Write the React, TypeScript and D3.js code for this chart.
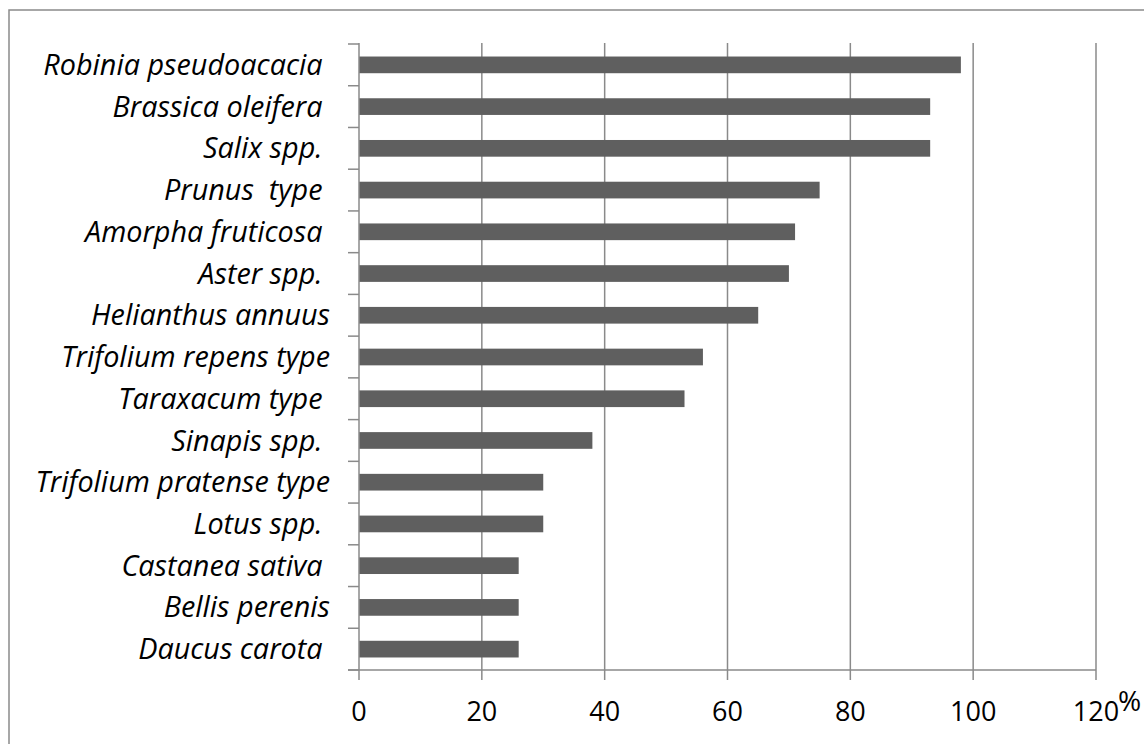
import React from "react";
import * as d3 from "d3";

const categories = [
  "Robinia pseudoacacia ",
  "Brassica oleifera ",
  "Salix spp. ",
  "Prunus  type ",
  "Amorpha fruticosa ",
  "Aster spp. ",
  "Helianthus annuus",
  "Trifolium repens type",
  "Taraxacum type ",
  "Sinapis spp. ",
  "Trifolium pratense type",
  "Lotus spp. ",
  "Castanea sativa ",
  "Bellis perenis",
  "Daucus carota ",
];
const values = [98, 93, 93, 75, 71, 70, 65, 56, 53, 38, 30, 30, 26, 26, 26];
const xTicks = [0, 20, 40, 60, 80, 100, 120];
const unitLabel = "%";

const W = 1144;
const H = 744;
const left = 359;
const right = 1096;
const top = 44;
const bottom = 670;

export default function App() {
  const x = d3.scaleLinear().domain([0, 120]).range([left, right]);
  const band = d3.scaleBand<string>().domain(categories).range([top, bottom]);
  const grid = "#8a8a8a";
  const boundaries = d3.range(categories.length + 1).map((i) => top + (i * (bottom - top)) / categories.length);

  return (
    <svg
      width={W}
      height={H}
      style={{ position: "absolute", left: 0, top: 0, background: "#fff" }}
    >
      <rect x={0} y={0} width={W} height={H} fill="#fff" />
      <rect x={9} y={10} width={1145} height={750} fill="none" stroke={grid} strokeWidth={1.5} />
      {xTicks.slice(1).map((t) => (
        <line key={"g" + t} x1={x(t)} x2={x(t)} y1={top - 1} y2={bottom} stroke={grid} strokeWidth={1.5} />
      ))}
      {categories.map((c, i) => {
        const bc = (band(c) as number) + band.bandwidth() / 2;
        const h = band.bandwidth() / 2.5;
        return (
          <rect key={c} x={x(0)} y={bc - h / 2} width={x(values[i]) - x(0)} height={h} fill="#5f5f5f" />
        );
      })}
      <line x1={left} x2={left} y1={top - 1} y2={bottom} stroke={grid} strokeWidth={1.5} />
      {boundaries.map((b, i) => (
        <line key={"yt" + i} x1={left - 11} x2={left} y1={b} y2={b} stroke={grid} strokeWidth={1.5} />
      ))}
      <line x1={left - 11} x2={right} y1={bottom} y2={bottom} stroke={grid} strokeWidth={1.5} />
      {xTicks.map((t) => (
        <line key={"xt" + t} x1={x(t)} x2={x(t)} y1={bottom} y2={bottom + 10} stroke={grid} strokeWidth={1.5} />
      ))}
      {xTicks.map((t) => (
        <text
          key={"xl" + t}
          x={x(t)}
          y={721}
          textAnchor="middle"
          fontFamily="'Open Sans', sans-serif"
          fontSize={27}
          fill="#000"
        >
          {t}
        </text>
      ))}
      <text x={1118} y={711} fontFamily="'Open Sans', sans-serif" fontSize={28} fill="#000">
        {unitLabel}
      </text>
      {categories.map((c) => (
        <text
          key={"cl" + c}
          x={330}
          y={(band(c) as number) + band.bandwidth() / 2}
          dy="0.35em"
          textAnchor="end"
          fontFamily="'Open Sans', sans-serif"
          fontStyle="italic"
          fontSize={28.8}
          fill="#000"
          style={{ whiteSpace: "pre" }}
        >
          {c}
        </text>
      ))}
    </svg>
  );
}
